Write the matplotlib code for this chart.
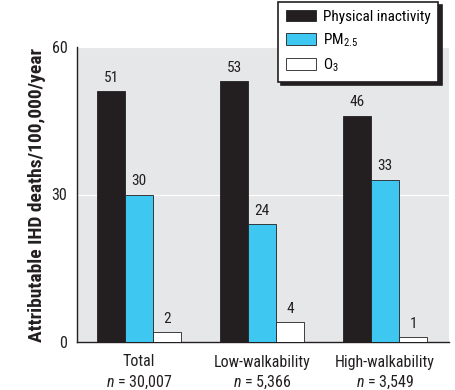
import matplotlib
matplotlib.use("Agg")
import matplotlib.pyplot as plt
import numpy as np

FONT = "Roboto Condensed"
plt.rcParams['font.family'] = [FONT, 'DejaVu Sans']
plt.rcParams['mathtext.fontset'] = 'custom'
plt.rcParams['mathtext.rm'] = FONT
plt.rcParams['mathtext.it'] = FONT + ':italic'
plt.rcParams['mathtext.bf'] = FONT + ':bold'

groups = ["Total", "Low-walkability", "High-walkability"]
ns = ["30,007", "5,366", "3,549"]
series_names = ["Physical inactivity", "PM$_{2.5}$", "O$_3$"]
inactivity = [51, 53, 46]
pm25 = [30, 24, 33]
o3 = [2, 4, 1]
yticks = [0, 30, 60]

colors = ["#231f20", "#3ec7f0", "#ffffff"]

fig = plt.figure(figsize=(4.55, 3.9), dpi=100)
ax = fig.add_axes([77/455, 48/390, 372/455, 295/390])
ax.set_facecolor("#e6e7e8")

x = np.arange(len(groups))
w = 0.2276
for i, (vals, c) in enumerate(zip([inactivity, pm25, o3], colors)):
    bars = ax.bar(x + (i - 1) * w, vals, width=w, color=c, edgecolor="#231f20",
                  linewidth=0.6, label=series_names[i], zorder=3)
    for b, v in zip(bars, vals):
        ax.text(b.get_x() + b.get_width() / 2, v + 1.3, str(v), ha="center",
                va="bottom", fontsize=11, color="#231f20", zorder=4)

ax.set_xlim(-0.504, 2.52)
ax.set_ylim(0, 60)
ax.set_yticks(yticks)
ax.set_yticklabels([str(t) for t in yticks], fontsize=11.5)
ax.yaxis.grid(True, color="white", linewidth=0.8, zorder=0)
ax.set_axisbelow(True)
ax.set_xticks(x)
ax.set_xticklabels([f"{g}\n$n$ = {n}" for g, n in zip(groups, ns)], fontsize=11.5,
                   linespacing=1.35)
ax.tick_params(axis="x", length=0, pad=9, colors="#231f20")
ax.tick_params(axis="y", length=0, pad=7, colors="#231f20")
for s in ["top", "right"]:
    ax.spines[s].set_visible(False)
for s in ["left", "bottom"]:
    ax.spines[s].set_color("#231f20")
    ax.spines[s].set_linewidth(1.0)

ax.set_ylabel("Attributable IHD deaths/100,000/year", fontsize=14, fontweight="bold",
              color="#231f20", labelpad=4)

# legend with solid drop shadow
leg = fig.legend(loc="upper left", bbox_to_anchor=(278 / 455, 1 - 2 / 390),
                 frameon=True, fancybox=False, fontsize=11,
                 handlelength=2.0, handleheight=0.8, labelspacing=0.5,
                 borderpad=0.5, handletextpad=0.45, borderaxespad=0,
                 shadow={'ox': 2.5, 'oy': -2.5, 'facecolor': '#231f20',
                         'edgecolor': '#231f20', 'alpha': 1.0})
leg.get_frame().set_edgecolor("#231f20")
leg.get_frame().set_linewidth(1.2)
leg.get_frame().set_alpha(1.0)
leg.set_zorder(10)

fig.savefig("out.png", dpi=100)
